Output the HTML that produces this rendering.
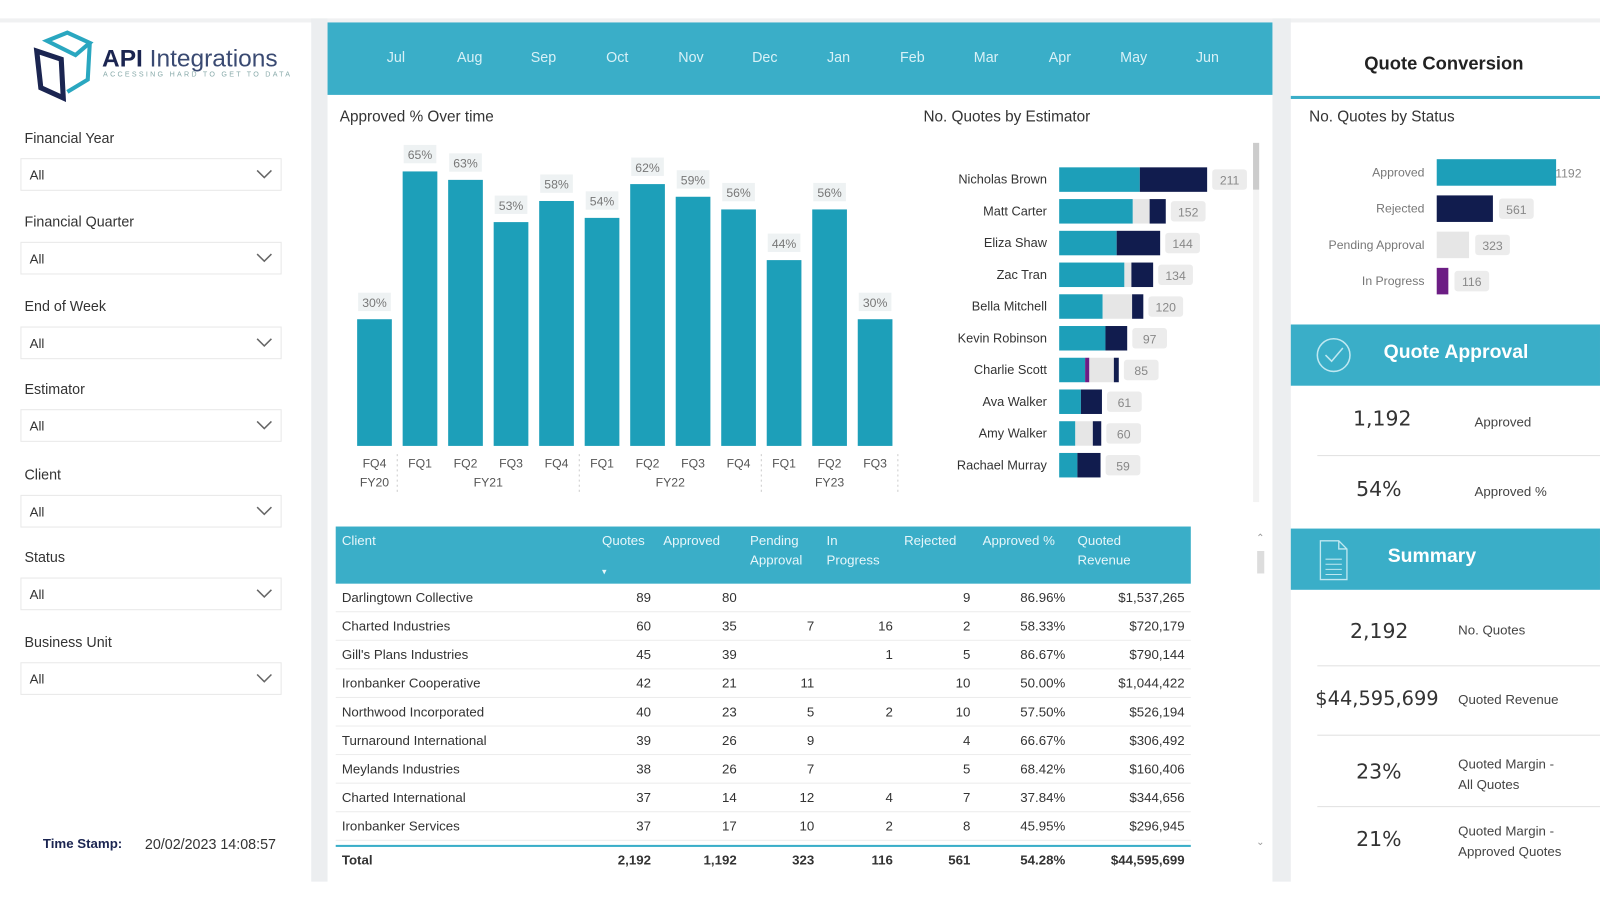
<!DOCTYPE html>
<html><head><meta charset="utf-8"><style>
*{box-sizing:border-box;margin:0;padding:0}
body{width:1600px;height:900px;background:#fff;font-family:"Liberation Sans",sans-serif;position:relative;overflow:hidden;color:#333}
#root{position:absolute;left:0;top:0;width:1568px;height:882px;transform:scale(1.0204);transform-origin:0 0}
.a{position:absolute}
.gut{background:#eceef0}
.lbl{font-size:14px;color:#333}
.box{position:absolute;left:20px;width:256px;height:32px;border:1px solid #e8e8e8;background:#fff;font-size:13px;padding:8px 8px}
.box svg{position:absolute;right:8px;top:10px}
.month{position:absolute;top:48px;font-size:14px;color:#d8f1f7;transform:translateX(-50%)}
.th{position:absolute;color:#e6f6fa;font-size:13px;line-height:19px}
.td{position:absolute;font-size:13px;color:#333}
.r{text-align:right}
.kv{position:absolute;font-size:20px;color:#333;font-family:"DejaVu Sans",sans-serif}
.kl{position:absolute;font-size:13px;color:#444}
.hr{position:absolute;height:1px;background:#e0e0e0}
</style></head><body>
<div id="root">
<div class="a gut" style="left:0;top:18px;width:1568px;height:4px;background:#f0f1f2"></div>
<div class="a gut" style="left:305px;top:18px;width:16px;height:846px"></div>
<div class="a gut" style="left:1247px;top:18px;width:18px;height:846px"></div>

<div class="a" style="left:8px;top:22px;width:297px;height:840px">
<svg class="a" style="left:18px;top:6px" width="76" height="72" viewBox="0 0 76 72">
<g stroke="#2aa7c0" stroke-width="4" fill="none"><path d="M20 12 L40 4 L62 14 L48 26 Z"/><path d="M62 14 L60 50 L40 62"/></g>
<g stroke="#1b2551" stroke-width="5" fill="none"><path d="M10 22 L34 30 L36 68 L14 58 Z"/></g>
</svg>
<div class="a" style="left:92px;top:22px;font-size:24px;color:#1b2551;white-space:nowrap"><b>API</b> <span style="color:#3a4a72">Integrations</span></div>
<div class="a" style="left:93px;top:48px;font-size:7px;letter-spacing:2.2px;color:#8aa;white-space:nowrap">ACCESSING HARD TO GET TO DATA</div>
</div>
<div id="slicers"></div>
<div class="a" style="left:42px;top:819px;font-size:13px;font-weight:bold;color:#1b2551">Time Stamp:</div>
<div class="a" style="left:142px;top:819px;font-size:14px">20/02/2023 14:08:57</div>

<div class="a" style="left:321px;top:22px;width:926px;height:71px;background:#3aaec8"></div>
<div id="months"></div>

<div class="a lbl" style="left:333px;top:106px;font-size:15px">Approved % Over time</div>
<div class="a lbl" style="left:905px;top:106px;font-size:15px">No. Quotes by Estimator</div>
<svg class="a" id="chart1" style="left:0;top:0" width="1568" height="500"></svg>
<div class="a" style="left:1228px;top:140px;width:6px;height:46px;background:#ccc"></div>
<div class="a" style="left:1228px;top:186px;width:6px;height:306px;background:#f3f3f3"></div>

<div class="a" style="left:329px;top:516px;width:838px;height:56px;background:#3aaec8"></div>
<div id="table"></div>
<div class="a" style="left:1232px;top:540px;width:7px;height:22px;background:#ddd"></div>
<div class="a" style="left:1231px;top:522px;font-size:10px;color:#999">&#8963;</div>
<div class="a" style="left:1231px;top:820px;font-size:10px;color:#999">&#8964;</div>

<div class="a" style="left:1265px;top:52px;width:300px;text-align:center;font-size:18px;font-weight:bold;color:#222">Quote Conversion</div>
<div class="a" style="left:1265px;top:94px;width:303px;height:3px;background:#3aaec8"></div>
<div class="a lbl" style="left:1283px;top:106px;font-size:15px">No. Quotes by Status</div>
<svg class="a" id="chart3" style="left:1265px;top:140px" width="300" height="160"></svg>

<div class="a" style="left:1265px;top:318px;width:303px;height:60px;background:#3aaec8"></div>
<svg class="a" style="left:1289px;top:330px" width="36" height="36"><circle cx="18" cy="18" r="16" stroke="#bfe8f1" stroke-width="1.5" fill="none"/><path d="M10 18 L16 24 L27 11" stroke="#bfe8f1" stroke-width="1.5" fill="none"/></svg>
<div class="a" style="left:1356px;top:335px;font-size:19px;font-weight:bold;color:#fff">Quote Approval</div>
<div class="kv" style="left:1326px;top:398px">1,192</div>
<div class="kl" style="left:1445px;top:406px">Approved</div>
<div class="hr" style="left:1291px;top:446px;width:277px"></div>
<div class="kv" style="left:1329px;top:467px">54%</div>
<div class="kl" style="left:1445px;top:474px">Approved %</div>

<div class="a" style="left:1265px;top:518px;width:303px;height:60px;background:#3aaec8"></div>
<svg class="a" style="left:1292px;top:528px" width="30" height="42"><path d="M2 2 H20 L28 10 V40 H2 Z M20 2 V10 H28" stroke="#bfe8f1" stroke-width="1.3" fill="none"/><g stroke="#bfe8f1"><line x1="7" y1="20" x2="23" y2="20"/><line x1="7" y1="25" x2="23" y2="25"/><line x1="7" y1="30" x2="23" y2="30"/><line x1="7" y1="35" x2="23" y2="35"/></g></svg>
<div class="a" style="left:1360px;top:535px;font-size:19px;font-weight:bold;color:#fff">Summary</div>
<div class="kv" style="left:1323px;top:606px">2,192</div>
<div class="kl" style="left:1429px;top:610px">No. Quotes</div>
<div class="hr" style="left:1291px;top:652px;width:277px"></div>
<div class="kv" style="left:1289px;top:674px;font-size:19px">$44,595,699</div>
<div class="kl" style="left:1429px;top:678px">Quoted Revenue</div>
<div class="hr" style="left:1291px;top:720px;width:277px"></div>
<div class="kv" style="left:1329px;top:744px">23%</div>
<div class="kl" style="left:1429px;top:739px;line-height:20px">Quoted Margin -<br>All Quotes</div>
<div class="hr" style="left:1291px;top:790px;width:277px"></div>
<div class="kv" style="left:1329px;top:810px">21%</div>
<div class="kl" style="left:1429px;top:805px;line-height:20px">Quoted Margin -<br>Approved Quotes</div>
</div>

<script>
const quarters = ["FQ4","FQ1","FQ2","FQ3","FQ4","FQ1","FQ2","FQ3","FQ4","FQ1","FQ2","FQ3"];
const approvedPct = [30,65,63,53,58,54,62,59,56,44,56,30];
const fyLabels = ["FY20","FY21","FY22","FY23"];
const fyStart = [0,1,5,9];
const fyEnd = [0,4,8,11];
const estimators = ["Nicholas Brown","Matt Carter","Eliza Shaw","Zac Tran","Bella Mitchell","Kevin Robinson","Charlie Scott","Ava Walker","Amy Walker","Rachael Murray"];
const estApproved = [115,105,82,93,62,66,37,31,23,26];
const estInProgress = [0,0,0,0,0,0,6,0,0,0];
const estPending = [0,24,0,10,42,0,35,0,25,0];
const estRejected = [96,23,62,31,16,31,7,30,12,33];
const estTotals = [211,152,144,134,120,97,85,61,60,59];
const statuses = ["Approved","Rejected","Pending Approval","In Progress"];
const statusCounts = [1192,561,323,116];
const months = ["Jul","Aug","Sep","Oct","Nov","Dec","Jan","Feb","Mar","Apr","May","Jun"];
const slicerNames = ["Financial Year","Financial Quarter","End of Week","Estimator","Client","Status","Business Unit"];
const tableCols = ["Quotes","Approved","Pending<br>Approval","In<br>Progress","Rejected","Approved %","Quoted<br>Revenue"];
const tableRows = [
["Darlingtown Collective","89","80","","","9","86.96%","$1,537,265"],
["Charted Industries","60","35","7","16","2","58.33%","$720,179"],
["Gill's Plans Industries","45","39","","1","5","86.67%","$790,144"],
["Ironbanker Cooperative","42","21","11","","10","50.00%","$1,044,422"],
["Northwood Incorporated","40","23","5","2","10","57.50%","$526,194"],
["Turnaround International","39","26","9","","4","66.67%","$306,492"],
["Meylands Industries","38","26","7","","5","68.42%","$160,406"],
["Charted International","37","14","12","4","7","37.84%","$344,656"],
["Ironbanker Services","37","17","10","2","8","45.95%","$296,945"]];
const totalRow = ["Total","2,192","1,192","323","116","561","54.28%","$44,595,699"];

const NS="http://www.w3.org/2000/svg";
function mk(tag,attrs,parent,txt){const e=document.createElementNS(NS,tag);for(const k in attrs)e.setAttribute(k,attrs[k]);if(txt!=null)e.textContent=txt;parent.appendChild(e);return e;}
const TEAL="#1d9fb9",NAVY="#111c4e",GRAY="#e6e6e6",PURP="#6c1d84";

const sl=document.getElementById('slicers');
const slTops=[127,209,292,373,457,538,621];
slicerNames.forEach((n,i)=>{
 const l=document.createElement('div');l.className='a lbl';l.style.left='24px';l.style.top=slTops[i]+'px';l.textContent=n;
 
 
 sl.appendChild(l);
 const b=document.createElement('div');b.className='box';b.style.top=(slTops[i]+28)+'px';
 b.innerHTML='All<svg width="16" height="10"><path d="M1 1 L8 8 L15 1" stroke="#666" stroke-width="1.5" fill="none"/></svg>';
 
 
 sl.appendChild(b);
});
const mo=document.getElementById('months');
months.forEach((m,i)=>{const d=document.createElement('div');d.className='month';d.style.left=(388+i*72.3)+'px';d.textContent=m;
 
 
 mo.appendChild(d);});

const c1=document.getElementById('chart1');
const baseY=437, pxPer=(437-168)/65;
const xC=i=>367+i*44.6;
const yV=v=>baseY-v*pxPer;
approvedPct.forEach((v,i)=>{
 const r=mk('rect',{x:xC(i)-17,y:yV(v),width:34,height:baseY-yV(v),fill:TEAL},c1);
 
 
 const lb=mk('rect',{x:xC(i)-16,y:yV(v)-26,width:32,height:18,fill:"#eef2f3"},c1);
 
 
 const t=mk('text',{x:xC(i),y:yV(v)-12,'text-anchor':'middle','font-size':12,fill:'#777'},c1,v+'%');
 
 
 const q=mk('text',{x:xC(i),y:458,'text-anchor':'middle','font-size':12,fill:'#555'},c1,quarters[i]);
 
 
});
fyLabels.forEach((f,k)=>{
 const cx=(xC(fyStart[k])+xC(fyEnd[k]))/2;
 const t=mk('text',{x:cx,y:477,'text-anchor':'middle','font-size':12,fill:'#555'},c1,f);
 
 
 const sx=xC(fyEnd[k])+22.3;
 const ln=mk('line',{x1:sx,y1:445,x2:sx,y2:485,stroke:'#ccc','stroke-dasharray':'2,3'},c1);
 
 
});
const eX0=1038, eScale=145/211;
estimators.forEach((n,i)=>{
 const cy=176+i*31.1;
 const t=mk('text',{x:1026,y:cy+4,'text-anchor':'end','font-size':12.5,fill:'#333'},c1,n);
 
 
 let x=eX0;
 [[estApproved,TEAL],[estInProgress,PURP],[estPending,GRAY],[estRejected,NAVY]].forEach(([arr,c])=>{
  const w=arr[i]*eScale; if(w<=0)return;
  const r=mk('rect',{x:x,y:cy-12,width:w,height:24,fill:c},c1);
  
  
  x+=w;
 });
 const ex=eX0+estTotals[i]*eScale+5;
 const b=mk('rect',{x:ex,y:cy-10,width:34,height:20,rx:3,fill:'#ececec'},c1);
 
 
 const v=mk('text',{x:ex+17,y:cy+5,'text-anchor':'middle','font-size':12,fill:'#888'},c1,estTotals[i]);
 
 
});
const c3=document.getElementById('chart3');
const sX0=143, sScale=117/1192, sCol=[TEAL,NAVY,GRAY,PURP];
statuses.forEach((s,i)=>{
 const cy=29+i*35.5;
 const t=mk('text',{x:131,y:cy+4,'text-anchor':'end','font-size':12,fill:'#777'},c3,s);
 
 
 const w=statusCounts[i]*sScale;
 const r=mk('rect',{x:sX0,y:cy-13,width:w,height:26,fill:sCol[i]},c3);
 
 
 const ex=i===0?sX0+w-5:sX0+w+6;
 if(i!==0){
  const b=mk('rect',{x:ex,y:cy-10,width:34,height:20,rx:3,fill:'#ececec'},c3);
  
  
 }
 const v=mk('text',{x:ex+17,y:cy+5,'text-anchor':'middle','font-size':12,fill:'#888'},c3,statusCounts[i]);
 
 
});

const tb=document.getElementById('table');
const colR=[638,722,798,875,951,1044,1161];
const colL=[590,650,735,810,886,963,1056];
function add(html,cls,l,t,extra,name,inter){const d=document.createElement('div');d.className=cls;d.style.left=l+'px';d.style.top=t+'px';if(extra)d.style.cssText+=extra;d.innerHTML=html;
 
 
 tb.appendChild(d);}
add('Client','th',335,520,'','header-client','true');
tableCols.forEach((c,i)=>add(c,'th',colL[i],520,'','table-column-header','true'));
add('&#9662;','th',590,551,'font-size:9px','sort-indicator','true');
tableRows.forEach((r,k)=>{
 const y=578+k*28;
 add(r[0],'td',335,y,'','table-client-cell','false');
 for(let j=1;j<8;j++) add(r[j],'td r',colR[j-1]-100,y,'width:100px','table-cell','false');
 add('','hr',329,y+21,'width:838px;background:#ececec','row-divider','false');
});
add('','hr',329,828,'width:838px;height:2px;background:#3aaec8','total-divider','false');
add(totalRow[0],'td',335,835,'font-weight:bold','total-label','false');
for(let j=1;j<8;j++) add(totalRow[j],'td r',colR[j-1]-120,835,'width:120px;font-weight:bold','total-cell','false');
</script>
</body></html>
